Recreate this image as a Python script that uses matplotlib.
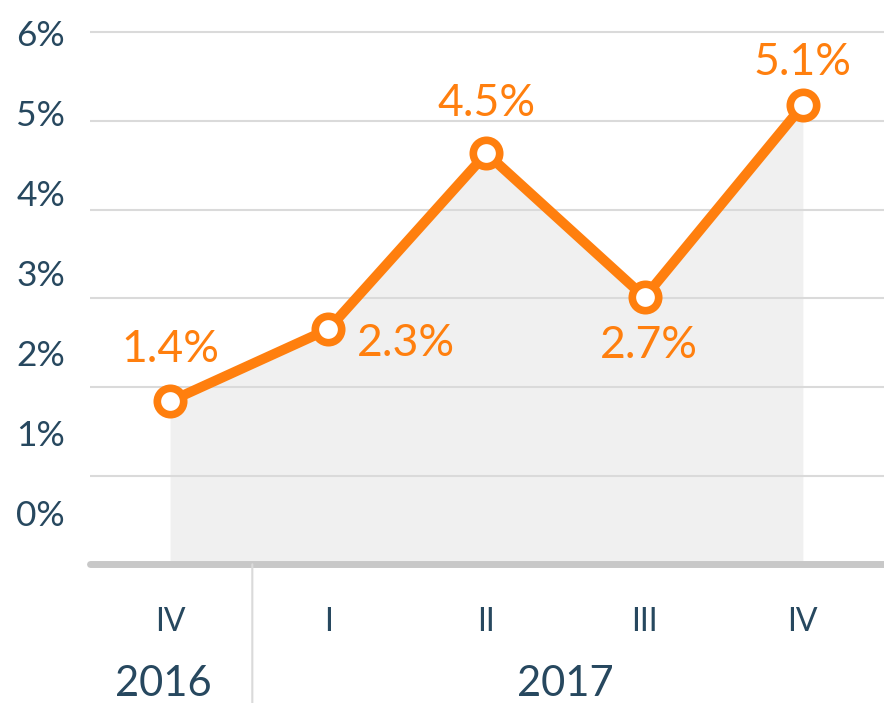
import matplotlib
matplotlib.use("Agg")
import matplotlib.pyplot as plt
import numpy as np

# data
quarters = ["IV", "I", "II", "III", "IV"]
years = ["2016", "2017"]
year_quarters = [[0], [1, 2, 3, 4]]
growth = [1.4, 2.3, 4.5, 2.7, 5.1]
value_labels = ["1.4%", "2.3%", "4.5%", "2.7%", "5.1%"]
y_ticks = [0, 1, 2, 3, 4, 5, 6]

# label offsets in points (dx, dy)
label_offsets = [(0, 37), (56, -10), (0, 36), (3, -35), (0, 31)]
year_dx = [-5, 0]

ORANGE = "#ff7f0e"
NAVY = "#27485f"
GRID = "#dadada"
BASE = "#c8c8c8"
FILL = "#f0f0f0"

plt.rcParams["font.family"] = ["Lato", "DejaVu Sans"]

fig = plt.figure(figsize=(8.84, 7.03), dpi=100)
W, H = 884, 703
left, right, base_y = 90, 884, 564.3
ax = fig.add_axes([left / W, (H - base_y) / H, (right - left) / W, base_y / H])

x = np.arange(len(growth))
ax.set_xlim(-0.506, 4.513)
ax.set_ylim(-0.6375, 6.416)

ax.fill_between(x, growth, -0.6375, color=FILL, lw=0, zorder=1)
ax.plot(x, growth, color=ORANGE, lw=7.2, zorder=3,
        marker="o", ms=19, mew=5.5, mfc="white", mec=ORANGE)

for xi, yi, txt, (dx, dy) in zip(x, growth, value_labels, label_offsets):
    ax.annotate(txt, (xi, yi), xytext=(dx, dy), textcoords="offset points",
                ha="center", va="center", color=ORANGE, fontsize=32, zorder=4)

# y axis labels
ax.set_yticks(y_ticks)
ax.set_yticklabels([f"{t}%" for t in y_ticks], color=NAVY, fontsize=25.5)
ax.tick_params(axis="y", length=0, pad=18)

# grid lines (evenly spaced from the baseline to the top line)
grid_pos = np.linspace(-0.6375, 6.01, 7)[1:]
ax.set_yticks(grid_pos, minor=True)
ax.tick_params(axis="y", which="minor", length=0)
ax.grid(axis="y", which="minor", color=GRID, lw=1.5)
ax.set_axisbelow("line")

# baseline
ax.axhline(-0.6375, color=BASE, lw=5, solid_capstyle="round", clip_on=False, zorder=2)

# quarter labels
ax.set_xticks(x)
ax.set_xticklabels(quarters, color=NAVY, fontsize=23)
ax.tick_params(axis="x", length=0, pad=31)
for lbl in ax.get_xticklabels():
    lbl.set_x(lbl.get_position()[0])

# year labels and separator
for yr, qs, dx in zip(years, year_quarters, year_dx):
    ax.annotate(yr, (np.mean(qs), 0), xycoords=("data", "axes fraction"),
                xytext=(dx, -86), textcoords="offset points",
                ha="center", va="center", color=NAVY, fontsize=30)
ax.annotate("", (0.52, 0), xycoords=("data", "axes fraction"),
            xytext=(0.52, -0.28), textcoords=("data", "axes fraction"),
            arrowprops=dict(arrowstyle="-", color=GRID, lw=1.5,
                            shrinkA=0, shrinkB=0))

for s in ax.spines.values():
    s.set_visible(False)

fig.savefig("out.png", dpi=100)
